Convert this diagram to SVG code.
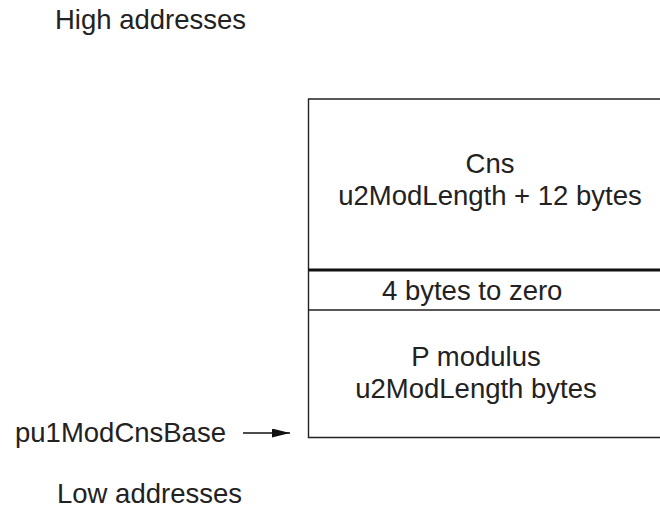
<svg xmlns="http://www.w3.org/2000/svg" width="660" height="512" viewBox="0 0 660 512">
<style>
text{font-family:"Liberation Sans",Arial,sans-serif;font-size:27.5px;fill:#222}
.ln{stroke:#222;stroke-width:1.4;fill:none}
.thick{stroke:#111;stroke-width:3;fill:none}
</style>
<defs>
<marker id="ah" viewBox="0 0 18 9" refX="18" refY="4.5" markerWidth="18" markerHeight="9" markerUnits="userSpaceOnUse" orient="auto">
<path d="M0,0 L18,4.5 L0,9 Z" fill="#111"/>
</marker>
</defs>
<rect width="660" height="512" fill="#fff"/>
<text x="55" y="29">High addresses</text>
<text x="57" y="503">Low addresses</text>
<g id="cns">
<path class="ln" d="M661,99 H308.5 V270"/>
<text x="490" y="173" text-anchor="middle">Cns</text>
<text x="490" y="205" text-anchor="middle">u2ModLength + 12 bytes</text>
</g>
<g id="zero">
<path class="thick" d="M308,270 H661"/>
<path class="ln" d="M308.5,270 V310"/>
<text x="382" y="300">4 bytes to zero</text>
</g>
<g id="pmod">
<path class="ln" d="M308,310 H661 M308.5,310 V437.5 H661"/>
<text x="476" y="366" text-anchor="middle">P modulus</text>
<text x="476" y="398" text-anchor="middle">u2ModLength bytes</text>
</g>
<g id="base">
<text x="15" y="442">pu1ModCnsBase</text>
</g>
<g id="connectors">
<path d="M243,433 H290" stroke="#111" stroke-width="1.6" marker-end="url(#ah)"/>
</g>
</svg>
